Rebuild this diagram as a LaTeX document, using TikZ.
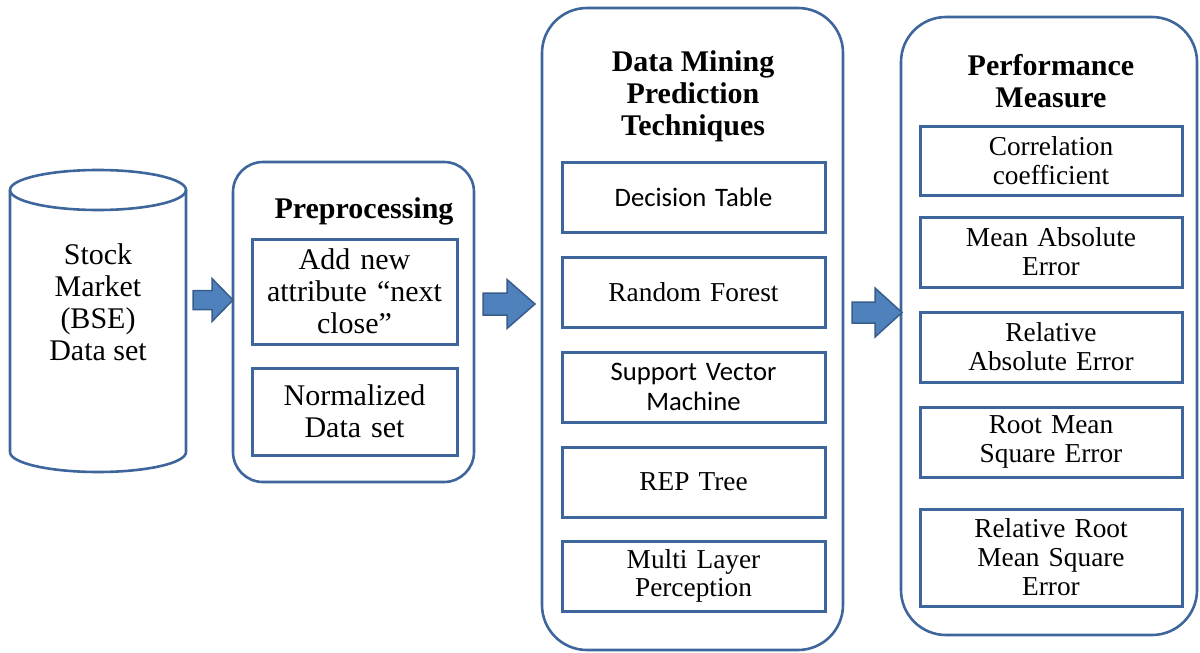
\documentclass[tikz,border=0pt]{standalone}
\usepackage{fontspec}
\setmainfont{Liberation Serif}
\newfontfamily\calibrifont{Carlito}
\usetikzlibrary{positioning}

\newlength\px
\setlength\px{0.75pt}

\definecolor{frameblue}{RGB}{62,102,156}
\definecolor{arrowfill}{RGB}{79,129,189}
\definecolor{arrowedge}{RGB}{56,93,138}

\tikzset{
  stage/.style={draw=frameblue, line width=2.6\px, rounded corners=#1, inner sep=0pt},
  stagetitle/.style={align=center, inner sep=0pt, font=\fontsize{22.5}{24}\bfseries\selectfont},
  cyl/.style={draw=frameblue, line width=2.6\px},
  cyltext/.style={align=center, inner sep=0pt, font=\fontsize{22.5}{24}\selectfont},
  prepbox/.style={draw=frameblue, line width=3\px, minimum width=205\px, text width=195\px,
    align=center, inner sep=0pt, font=\fontsize{22.5}{24}\selectfont},
  methodbox/.style={draw=frameblue, line width=3\px, minimum width=263\px, minimum height=70\px,
    text width=250\px, align=center, inner sep=0pt, font=\fontsize{20.5}{22.5}\selectfont},
  measurebox/.style={draw=frameblue, line width=3\px, minimum width=262\px, minimum height=70\px,
    text width=250\px, align=center, inner sep=0pt, font=\fontsize{20.5}{21.75}\selectfont},
  blockarrow/.style={fill=arrowfill, draw=arrowedge, line width=1.5\px, line join=miter},
}

\begin{document}
\begin{tikzpicture}[x=0.75pt,y=0.75pt,yscale=-1,xscale=1]
\useasboundingbox (0,0) rectangle (1200,653);

% data source cylinder
\draw[cyl] (10,190) -- (10,452) .. controls (10,463.05) and (49.4,472) .. (98,472)
  .. controls (146.6,472) and (186,463.05) .. (186,452) -- (186,190);
\draw[cyl] (98,190) ellipse [x radius=88, y radius=20];
\node[cyltext] (stock) at (98,302) {Stock\\Market\\(BSE)\\Data set};

% preprocessing stage
\node[stage=30\px, minimum width=241\px, minimum height=320\px] (prep) at (353.5,322) {};
\node[stagetitle] (preptitle) at (364,211) {Preprocessing};
\node[prepbox, minimum height=105\px] (addattr) at (354.5,291.5) {Add new\\attribute “next\\close”};
\node[prepbox, minimum height=87\px] (normal) at (354.5,411.5) {Normalized\\Data set};

% prediction techniques
\node[stage=45\px, minimum width=301\px, minimum height=642\px] (mining) at (692.5,329) {};
\node[stagetitle] (miningtitle) at (693,96.5) {Data Mining\\Prediction\\Techniques};
\node[methodbox, font=\calibrifont\fontsize{20}{22.5}\selectfont] (dtable) at (693.5,197) {Decision Table};
\node[methodbox] (rforest) at (693.5,292) {Random Forest};
\node[methodbox, font=\calibrifont\fontsize{20}{22.5}\selectfont] (svm) at (693.5,387) {Support Vector\\Machine};
\node[methodbox] (reptree) at (693.5,482) {REP Tree};
\node[methodbox, font=\fontsize{20.5}{21}\selectfont] (mlp) at (693.5,576) {Multi Layer\\Perception};

% performance measures
\node[stage=45\px, minimum width=296\px, minimum height=618\px] (perf) at (1049,326) {};
\node[stagetitle] (perftitle) at (1051,81) {Performance\\Measure};
\node[measurebox, minimum height=69\px] (corr) at (1051,160.5) {Correlation\\coefficient};
\node[measurebox] (mae) at (1051,252) {Mean Absolute\\Error};
\node[measurebox] (rae) at (1051,347) {Relative\\Absolute Error};
\node[measurebox] (rmse) at (1051,442) {Root Mean\\Square Error};
\node[measurebox, minimum height=97\px] (rrmse) at (1051,557.5) {Relative Root\\Mean Square\\Error};

% block arrows between the stages
\draw[blockarrow] (193,290.5) -- (212,290.5) -- (212,278.5) -- (233,300) -- (212,321.5)
  -- (212,309.5) -- (193,309.5) -- cycle;
\draw[blockarrow] (483,293) -- (507,293) -- (507,279.5) -- (535,304) -- (507,328.5)
  -- (507,315) -- (483,315) -- cycle;
\draw[blockarrow] (852,302) -- (875,302) -- (875,288) -- (902,312.5) -- (875,337)
  -- (875,323) -- (852,323) -- cycle;
\end{tikzpicture}
\end{document}
